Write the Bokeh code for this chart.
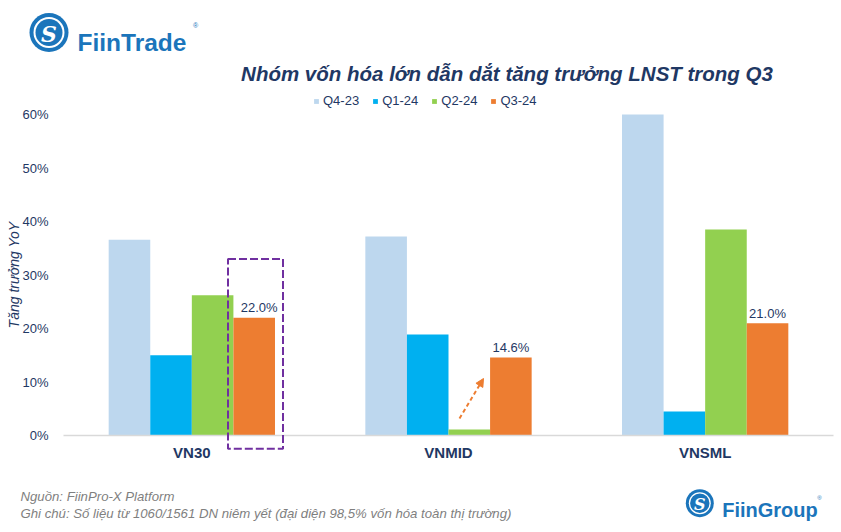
import numpy as np
from bokeh.plotting import figure
from bokeh.models import (Range1d, FixedTicker, PrintfTickFormatter, Legend, LegendItem,
                          Arrow, NormalHead, ColumnDataSource)
from bokeh.core.properties import value
from bokeh.embed import file_html
from bokeh.resources import INLINE

# ---------------- data ----------------
categories = ["VN30", "VNMID", "VNSML"]
series_names = ["Q4-23", "Q1-24", "Q2-24", "Q3-24"]
q4_23 = [36.6, 37.2, 60.0]
q1_24 = [15.0, 18.9, 4.5]
q2_24 = [26.2, 1.1, 38.5]
q3_24 = [22.0, 14.6, 21.0]
y_ticks = [0, 10, 20, 30, 40, 50, 60]
title_text = "Nhóm vốn hóa lớn dẫn dắt tăng trưởng LNST trong Q3"
y_label = "Tăng trưởng YoY"
source_note = "Nguồn: FiinPro-X Platform"
note_text = "Ghi chú: Số liệu từ 1060/1561 DN niêm yết (đại diện 98,5% vốn hóa toàn thị trường)"

colors = ["#BDD7EE", "#00B0F0", "#92D050", "#ED7D31"]
NAVY = "#1F3864"
LOGO = "#1B75BB"
FONT = "Liberation Sans"

# ---------------- geometry (page pixels) ----------------
W, H = 841, 532
CHART_L, CHART_R = 63, 833      # pixel extent of the three category slots
ZERO_PY = 435                   # pixel row of the 0% line
PX_PER_PCT = 5.35
CW = (CHART_R - CHART_L) / 3.0


def dx(px):
    return (px - CHART_L) / CW


def dy(py):
    return (ZERO_PY - py) / PX_PER_PCT


p = figure(width=W, height=H, x_range=Range1d(dx(0), dx(W)), y_range=Range1d(dy(H), dy(0)),
           output_backend="svg", toolbar_location=None, min_border=0,
           outline_line_color=None)
p.grid.visible = False

# ---------------- bars ----------------
centers = np.arange(len(categories)) + 0.5
bar_w = 0.162
offsets = [-1.5 * bar_w, -0.5 * bar_w, 0.5 * bar_w, 1.5 * bar_w]
all_series = [q4_23, q1_24, q2_24, q3_24]
renderers = []
for vals, off, col in zip(all_series, offsets, colors):
    r = p.vbar(x=centers + off, top=vals, bottom=0, width=bar_w,
               fill_color=col, line_color=None)
    renderers.append(r)

# baseline across the category slots
p.segment(x0=[0], x1=[len(categories)], y0=[0], y1=[0], line_color="#D9D9D9", line_width=1.5)

# data labels on Q3-24 (first one nudged right, clear of the highlight box)
lbl_src = ColumnDataSource(dict(x=centers + offsets[3], y=q3_24,
                                t=[f"{v:.1f}%" for v in q3_24],
                                nudge=[5, 0, 0]))
p.text(x="x", y="y", text="t", source=lbl_src, text_align="center",
       text_baseline="alphabetic", x_offset="nudge", y_offset=-10, text_font=value(FONT),
       text_font_size="13px", text_color=NAVY)

# highlight box around VN30 Q3-24
p.quad(left=[dx(227.5)], right=[dx(282.5)], bottom=[dy(448.3)], top=[dy(258.5)], fill_color=None,
       line_color="#7030A0", line_width=2, line_dash="8 3")

# dashed arrow in VNMID
p.add_layout(Arrow(end=NormalHead(size=8, fill_color="#ED7D31", line_color="#ED7D31"),
                   x_start=dx(459), y_start=dy(418), x_end=dx(483), y_end=dy(378),
                   line_color="#ED7D31", line_width=2, line_dash="4 3"))

# ---------------- axes (drawn inside the full-canvas frame) ----------------
p.xaxis.fixed_location = 0
p.xaxis.ticker = FixedTicker(ticks=list(centers))
p.xaxis.major_label_overrides = {float(c): n for c, n in zip(centers, categories)}
p.xaxis.major_label_text_font = FONT
p.xaxis.major_label_text_font_style = "bold"
p.xaxis.major_label_text_font_size = "15px"
p.xaxis.major_label_text_color = NAVY
p.xaxis.major_label_standoff = 2
p.xaxis.axis_line_color = None
p.xaxis.major_tick_line_color = None
p.xaxis.minor_tick_line_color = None

p.yaxis.fixed_location = 0
p.yaxis.bounds = (y_ticks[0], y_ticks[-1])
p.yaxis.ticker = FixedTicker(ticks=y_ticks)
p.yaxis.formatter = PrintfTickFormatter(format="%d%%")
p.yaxis.major_label_text_font = FONT
p.yaxis.major_label_text_font_size = "13px"
p.yaxis.major_label_text_color = NAVY
p.yaxis.major_label_standoff = 9
p.yaxis.axis_line_color = None
p.yaxis.major_tick_line_color = None
p.yaxis.minor_tick_line_color = None
p.yaxis.axis_label = y_label
p.yaxis.axis_label_text_font = FONT
p.yaxis.axis_label_text_font_style = "italic"
p.yaxis.axis_label_text_font_size = "14px"
p.yaxis.axis_label_text_color = NAVY
p.yaxis.axis_label_standoff = -3

legend = Legend(items=[LegendItem(label=n, renderers=[r]) for n, r in zip(series_names, renderers)],
                location=(313, 424), orientation="horizontal", glyph_width=6, glyph_height=6,
                label_standoff=4, spacing=13, padding=0, margin=0, label_height=12,
                label_text_font=FONT, label_text_font_size="13px", label_text_color=NAVY,
                border_line_color=None, background_fill_alpha=0)
p.add_layout(legend, "center")


# ---------------- header / footer decorations ----------------
def disc(cx, cy, r, color):
    p.scatter(x=[dx(cx)], y=[dy(cy)], size=2 * r, marker="circle",
              fill_color=color, line_color=None)


def label(px, py, text, size, color, style="normal", align="left", font=FONT, baseline="alphabetic"):
    p.text(x=[dx(px)], y=[dy(py)], text=[text], text_font=value(font), text_font_size=size,
           text_font_style=style, text_color=color, text_align=align, text_baseline=baseline)


# FiinTrade logo
disc(48.5, 32, 19.5, LOGO)
disc(48.5, 32, 15.5, "white")
disc(48.5, 32, 13.5, LOGO)
label(48.5, 33, "S", "22px", "white", "bold italic", "center", "DejaVu Serif", "middle")
label(77, 42, "FiinTrade", "24.5px", LOGO, "bold")
label(195, 25, "®", "7px", LOGO, "normal", "center")

# title
label(506.5, 72.7, title_text, "20.5px", NAVY, "bold italic", "center")

# footer notes
label(20, 495.5, source_note, "13.2px", "#7F7F7F", "italic")
label(20, 512.5, note_text, "13.2px", "#7F7F7F", "italic")

# FiinGroup logo
disc(699.3, 502.7, 14, LOGO)
disc(699.3, 502.7, 11, "white")
disc(699.3, 502.7, 9.7, LOGO)
label(699.3, 503.5, "S", "16px", "white", "bold italic", "center", "DejaVu Serif", "middle")
label(721.7, 509.3, "FiinGroup", "20px", LOGO, "bold")
label(819, 497, "®", "6px", LOGO, "normal", "center")

open("out.html", "w").write(file_html(p, INLINE))
